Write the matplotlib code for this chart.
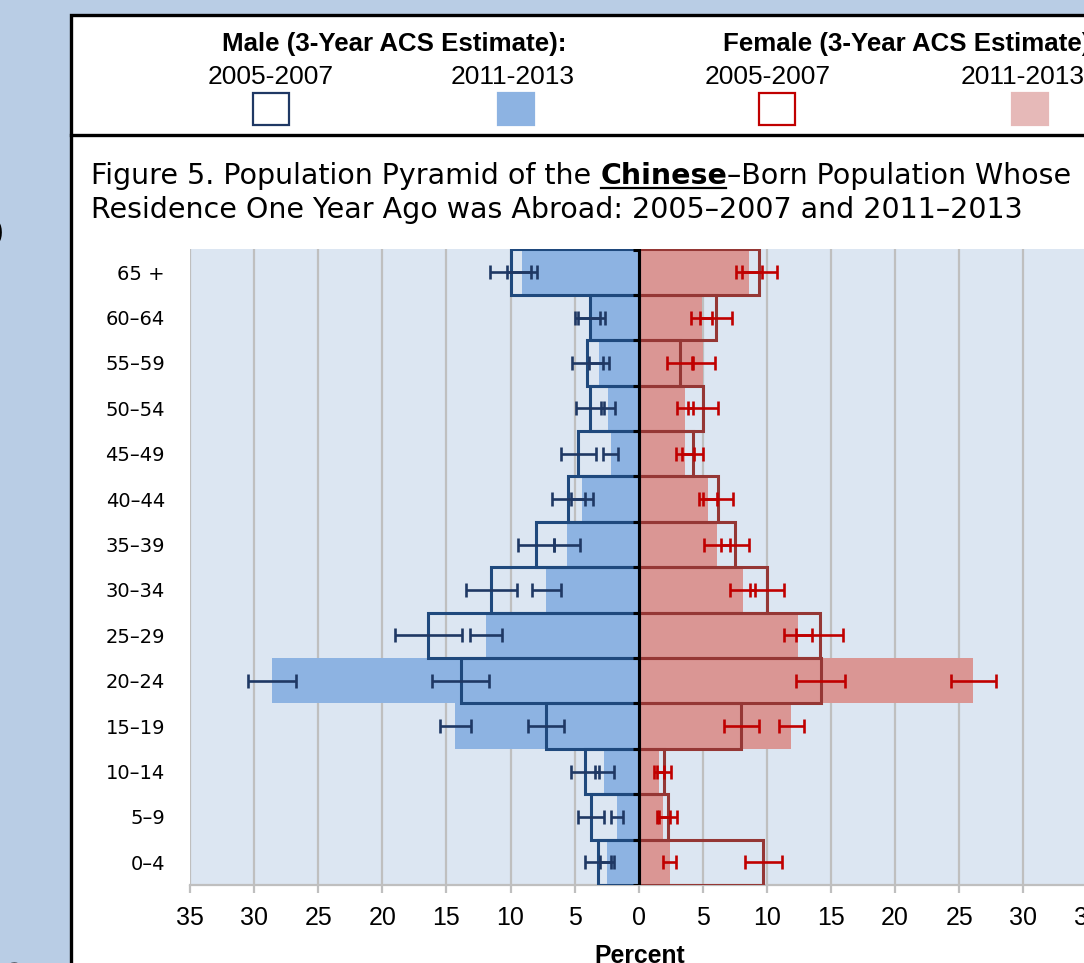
import numpy as np
import matplotlib
matplotlib.use('Agg')
import matplotlib.pyplot as plt
from matplotlib import font_manager as fm
from matplotlib.patches import Rectangle
from matplotlib.lines import Line2D

# age groups, bottom to top
ages = ['0–4', '5–9', '10–14', '15–19', '20–24', '25–29', '30–34',
        '35–39', '40–44', '45–49', '50–54', '55–59', '60–64', '65 +']

# percent of population, 3-year ACS estimates
male_0507 = [3.2, 3.7, 4.2, 7.2, 13.9, 16.4, 11.5, 8.0, 5.5, 4.7, 3.8, 4.0, 3.8, 10.0]
male_0507_err = [1.0, 1.0, 1.1, 1.4, 2.2, 2.6, 2.0, 1.4, 1.3, 1.4, 1.1, 1.2, 1.2, 1.6]
male_1113 = [2.5, 1.7, 2.7, 14.3, 28.6, 11.9, 7.2, 5.6, 4.4, 2.2, 2.4, 3.1, 3.9, 9.1]
male_1113_err = [0.55, 0.5, 0.75, 1.2, 1.9, 1.25, 1.15, 1.0, 0.85, 0.6, 0.55, 0.75, 0.85, 1.15]

female_0507 = [9.7, 2.3, 2.0, 8.0, 14.2, 14.1, 10.0, 7.5, 6.2, 4.2, 5.0, 3.2, 6.0, 9.4]
female_0507_err = [1.45, 0.7, 0.55, 1.35, 1.9, 1.8, 1.35, 1.1, 1.15, 0.8, 1.15, 1.0, 1.25, 1.35]
female_1113 = [2.4, 1.9, 1.6, 11.9, 26.1, 12.4, 8.1, 6.1, 5.4, 3.6, 3.6, 5.05, 4.9, 8.6]
female_1113_err = [0.5, 0.5, 0.4, 0.95, 1.75, 1.1, 1.0, 1.0, 0.7, 0.7, 0.65, 0.9, 0.85, 1.0]

xticks = np.arange(-35, 36, 5)

# colours
bg = '#B9CDE5'
plot_bg = '#DCE6F2'
grid_c = '#BFBFBF'
male_fill = '#8DB3E2'
male_line = '#1F497D'
male_err = '#1F3864'
fem_fill = '#DA9694'
fem_line = '#953735'
fem_err = '#C00000'

installed = {f.name for f in fm.fontManager.ttflist}
narrow = 'DejaVu Sans'
for cand in ['Liberation Sans Narrow', 'Liberation Sans']:
    if cand in installed:
        narrow = cand
        break

W, H = 1084, 963
fig = plt.figure(figsize=(W / 100, H / 100), dpi=100)
fig.patch.set_facecolor(bg)


def fx(px):
    return px / W


def fy(py):
    return 1 - py / H


# bits of slide text peeking in on the left
fig.text(fx(5), fy(232), 'o', fontsize=40, ha='right', va='center', color='black')
fig.text(fx(-1), fy(975), 'e', fontsize=32, ha='left', va='center', color='black')

# white chart panel and legend divider
fig.add_artist(Rectangle((fx(71), fy(1020)), fx(1120 - 71), (1020 - 15) / H,
                         transform=fig.transFigure, facecolor='white',
                         edgecolor='black', lw=2.4, zorder=0))
fig.add_artist(Line2D([fx(71), fx(1090)], [fy(135), fy(135)],
                      transform=fig.transFigure, color='black', lw=2.4))

# legend strip
fig.text(fx(394), fy(44), 'Male (3-Year ACS Estimate):', family=narrow,
         fontweight='bold', fontsize=18.6, ha='center', va='center')
fig.text(fx(723), fy(44), 'Female (3-Year ACS Estimate):', family=narrow,
         fontweight='bold', fontsize=18.6, ha='left', va='center')
for cx, lab in [(271, '2005-2007'), (513, '2011-2013'), (768, '2005-2007')]:
    fig.text(fx(cx), fy(77), lab, family=narrow, fontsize=19, ha='center', va='center')
fig.text(fx(961), fy(77), '2011-2013', family=narrow, fontsize=19, ha='left', va='center')

swatches = [(253, 'none', male_err), (498, male_fill, male_fill),
            (759, 'none', fem_err), (1012, '#E6B9B8', '#E6B9B8')]
for x0, fc, ec in swatches:
    fig.add_artist(Rectangle((fx(x0), fy(125)), 36 / W, 32 / H,
                             transform=fig.transFigure, facecolor=fc,
                             edgecolor=ec, lw=1.6))

# title with bold underlined country name
renderer = fig.canvas.get_renderer()
tsize = 20.5
x = 91
for piece, weight in [('Figure 5. Population Pyramid of the ', 'normal'),
                      ('Chinese', 'bold'),
                      ('–Born Population Whose', 'normal')]:
    t = fig.text(fx(x), fy(184), piece, fontsize=tsize, fontweight=weight,
                 ha='left', va='baseline')
    bb = t.get_window_extent(renderer)
    if weight == 'bold':
        fig.add_artist(Line2D([fx(bb.x0 + 1), fx(bb.x1 - 1)], [fy(188), fy(188)],
                              transform=fig.transFigure, color='black', lw=1.6))
    x = bb.x1
fig.text(fx(91), fy(218), 'Residence One Year Ago was Abroad: 2005–2007 and 2011–2013',
         fontsize=tsize, ha='left', va='baseline')

# pyramid
ax = fig.add_axes([fx(190), fy(885), (1087.5 - 190) / W, (885 - 249.5) / H])
ax.set_facecolor(plot_bg)
y = np.arange(len(ages))

ax.barh(y, -np.array(male_1113), height=1.0, color=male_fill, zorder=2)
ax.barh(y, female_1113, height=1.0, color=fem_fill, zorder=2)
ax.barh(y, -np.array(male_0507), height=1.0, fill=False, edgecolor=male_line,
        lw=2.2, zorder=3)
ax.barh(y, female_0507, height=1.0, fill=False, edgecolor=fem_line,
        lw=2.2, zorder=3)

ekw = dict(fmt='none', elinewidth=1.9, capsize=4.8, capthick=1.9, zorder=4)
ax.errorbar(-np.array(male_0507), y, xerr=male_0507_err, ecolor=male_err, **ekw)
ax.errorbar(-np.array(male_1113), y, xerr=male_1113_err, ecolor=male_err, **ekw)
ax.errorbar(female_0507, y, xerr=female_0507_err, ecolor=fem_err, **ekw)
ax.errorbar(female_1113, y, xerr=female_1113_err, ecolor=fem_err, **ekw)

# centre axis with small ticks between age groups
ax.axvline(0, color='black', lw=2.2, zorder=5)
ax.hlines(np.arange(len(ages) + 1) - 0.5, -0.45, 0, color='black', lw=2.2, zorder=5)

ax.set_xlim(-35, 35)
ax.set_ylim(-0.5, len(ages) - 0.5)
ax.set_xticks(xticks)
ax.set_xticklabels([str(abs(v)) for v in xticks], family=narrow, fontsize=18)
ax.set_yticks(y)
ax.set_yticklabels(ages, fontsize=14)
ax.tick_params(axis='y', length=0, pad=18)
ax.tick_params(axis='x', length=6, width=1.6, color=grid_c, pad=9)
ax.grid(axis='x', color=grid_c, lw=1.6)
ax.set_axisbelow(True)
for side in ['top', 'right', 'left']:
    ax.spines[side].set_visible(False)
ax.spines['bottom'].set_color(grid_c)
ax.spines['bottom'].set_linewidth(1.6)

fig.text(fx(640), fy(956), 'Percent', family=narrow, fontweight='bold',
         fontsize=17.8, ha='center', va='center')

fig.savefig('out.png', dpi=100, facecolor=fig.get_facecolor())
